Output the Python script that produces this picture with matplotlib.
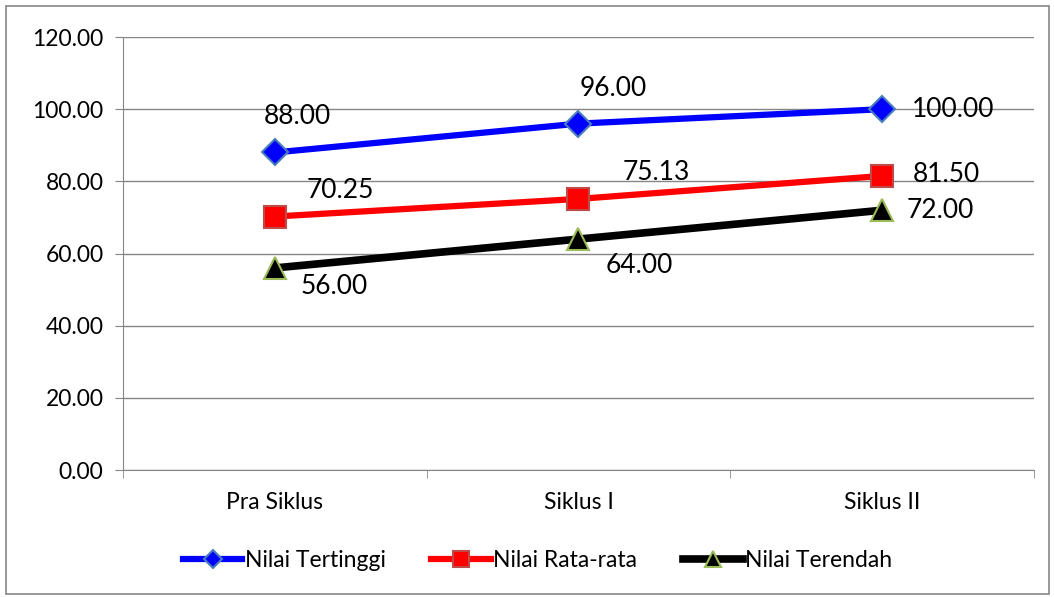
import matplotlib.pyplot as plt
from matplotlib.patches import Rectangle

categories = ['Pra Siklus', 'Siklus I', 'Siklus II']
tertinggi = [88.00, 96.00, 100.00]
rata_rata = [70.25, 75.13, 81.50]
terendah = [56.00, 64.00, 72.00]

plt.rcParams['font.family'] = ['Lato', 'DejaVu Sans']

fig = plt.figure(figsize=(10.54, 5.97), dpi=100)
ax = fig.add_axes([0.1167, 0.2127, 0.8643, 0.7253])

# outer chart border
fig.patches.append(Rectangle((6 / 1054, 3 / 597), 1043 / 1054, 588 / 597,
                             transform=fig.transFigure, fill=False,
                             edgecolor='#868686', lw=1.2))

x = range(len(categories))
ax.plot(x, tertinggi, color='#0000ff', lw=4.5, marker='D', ms=13,
        mfc='#0000ff', mec='#4a7ebb', mew=1.5, label='Nilai Tertinggi', zorder=3)
ax.plot(x, rata_rata, color='#ff0000', lw=4.5, marker='s', ms=16,
        mfc='#ff0000', mec='#be4b48', mew=1.5, label='Nilai Rata-rata', zorder=3)
ax.plot(x, terendah, color='#000000', lw=5.5, marker='^', ms=16,
        mfc='#000000', mec='#9bbb59', mew=1.5, label='Nilai Terendah', zorder=3)

# label offsets in points, one list per series
offs = [
    [(16, 26), (25, 25), (51, 0)],
    [(47, 19), (56, 19), (46, 1)],
    [(43, -13), (44, -19), (42, 0)],
]
for series_i, vals in enumerate([tertinggi, rata_rata, terendah]):
    for i, v in enumerate(vals):
        dx, dy = offs[series_i][i]
        ax.annotate(f'{v:.2f}', (i, v), xytext=(dx, dy), textcoords='offset points',
                    ha='center', va='center', fontsize=19, zorder=4)

ax.set_xlim(-0.5, 2.5)
ax.set_ylim(0, 120)
ax.set_yticks(range(0, 121, 20))
ax.set_yticklabels([f'{t:.2f}' for t in range(0, 121, 20)], fontsize=16.5)
ax.set_xticks(list(x))
ax.set_xticklabels(categories, fontsize=16.5)
ax.set_xticks([-0.5, 0.5, 1.5, 2.5], minor=True)
ax.tick_params(axis='x', which='major', length=0, pad=16)
ax.tick_params(axis='x', which='minor', length=6, color='#868686')
ax.tick_params(axis='y', length=6, color='#868686', pad=8)
ax.grid(axis='y', color='#868686', lw=1)
ax.set_axisbelow(True)
for s in ['top', 'right']:
    ax.spines[s].set_visible(False)
for s in ['left', 'bottom']:
    ax.spines[s].set_color('#868686')

ax.legend(loc='center', bbox_to_anchor=(0.455, -0.208), ncol=3, frameon=False,
          fontsize=16.5, handlelength=2.6, handletextpad=0.1, columnspacing=2.0,
          markerscale=0.7)

fig.savefig('out.png', dpi=100)
